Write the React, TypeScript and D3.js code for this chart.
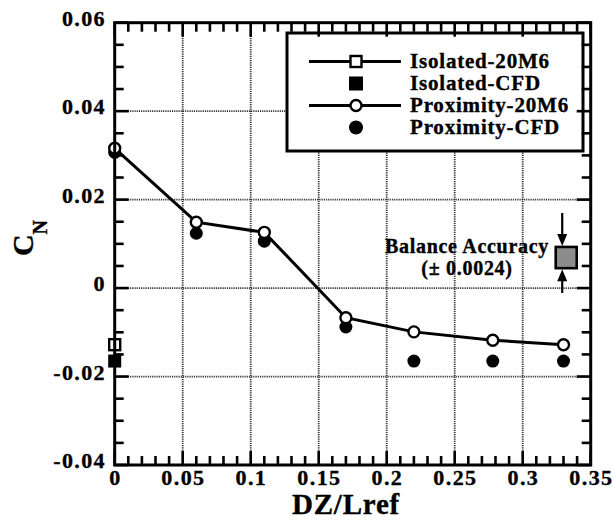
import React from "react";
import * as d3 from "d3";

const dz = [0, 0.06, 0.11, 0.17, 0.22, 0.278, 0.33];
const proximity20M6 = [0.0316, 0.0149, 0.0126, -0.0067, -0.0099, -0.0118, -0.0128];
const proximityCFD = [0.0307, 0.0124, 0.0106, -0.0088, -0.0165, -0.0165, -0.0165];
const isolatedX = [0];
const isolated20M6 = [-0.0128];
const isolatedCFD = [-0.0165];
const balanceX = 0.332;
const balanceCenter = 0.0069;
const balanceHalf = 0.0024;

const xTicks = [0, 0.05, 0.1, 0.15, 0.2, 0.25, 0.3, 0.35];
const xTickLabels = ["0", "0.05", "0.1", "0.15", "0.2", "0.25", "0.3", "0.35"];
const yTicks = [-0.04, -0.02, 0, 0.02, 0.04, 0.06];
const yTickLabels = ["-0.04", "-0.02", "0", "0.02", "0.04", "0.06"];
const legendLabels = ["Isolated-20M6", "Isolated-CFD", "Proximity-20M6", "Proximity-CFD"];

const FONT = "Liberation Serif, Times New Roman, Times, serif";

export default function App() {
  const L = 114.7, R = 590.7, T = 22.7, B = 465;
  const x = d3.scaleLinear().domain([0, 0.35]).range([L, R]);
  const y = d3.scaleLinear().domain([-0.04, 0.06]).range([B, T]);

  const xMinor = d3.range(0, 0.3501, 0.01).filter((v) => !xTicks.some((t) => Math.abs(t - v) < 1e-6));
  const yMinor = d3.range(-0.04, 0.0601, 0.005).filter((v) => !yTicks.some((t) => Math.abs(t - v) < 1e-6));

  const line = d3
    .line<number>()
    .x((_, i) => x(dz[i]))
    .y((d) => y(d));

  const major = 14, minor = 9;
  const tw = 2.6;
  const gridStyle = { stroke: "#333", strokeWidth: 1.8, strokeDasharray: "1.2,1" };

  const legRows = [61.5, 83.5, 105.5, 127.5];
  const legSymX = 356;

  const bx = x(balanceX);
  const bTop = y(balanceCenter + balanceHalf);
  const bBot = y(balanceCenter - balanceHalf);

  const txt = { fontFamily: FONT, fontWeight: 700 as const, stroke: "#000", strokeWidth: 0.35 };

  return (
    <svg
      width={613}
      height={520}
      style={{ position: "absolute", left: 0, top: 0, background: "#fff", fontFamily: FONT, fontWeight: 700 }}
    >
      <rect x={0} y={0} width={613} height={520} fill="#fff" />
      {/* grid */}
      {xTicks.slice(1, -1).map((t) => (
        <line key={"gx" + t} x1={x(t)} x2={x(t)} y1={T} y2={B} {...gridStyle} />
      ))}
      {yTicks.slice(1, -1).map((t) => (
        <line key={"gy" + t} x1={L} x2={R} y1={y(t)} y2={y(t)} {...gridStyle} />
      ))}

      {/* legend */}
      <rect x={287} y={33} width={296} height={118} fill="#fff" stroke="#000" strokeWidth={3} />
      <line x1={309} x2={401} y1={legRows[0]} y2={legRows[0]} stroke="#000" strokeWidth={3} />
      <rect x={legSymX - 5.5} y={legRows[0] - 5.5} width={11} height={11} fill="#fff" stroke="#000" strokeWidth={2.4} />
      <rect x={legSymX - 7} y={legRows[1] - 7} width={14} height={14} fill="#000" />
      <line x1={309} x2={401} y1={legRows[2]} y2={legRows[2]} stroke="#000" strokeWidth={3} />
      <circle cx={legSymX} cy={legRows[2]} r={5.5} fill="#fff" stroke="#000" strokeWidth={2.4} />
      <circle cx={legSymX} cy={legRows[3]} r={7} fill="#000" />
      {legendLabels.map((s, i) => (
        <text key={s} x={410} y={legRows[i] + 6.5} fontSize={21} letterSpacing={0.8} fill="#000" style={txt}>
          {s}
        </text>
      ))}

      {/* data line */}
      <path d={line(proximity20M6) || ""} fill="none" stroke="#000" strokeWidth={3} />
      {proximityCFD.map((v, i) => (
        <circle key={"pc" + i} cx={x(dz[i])} cy={y(v)} r={6.5} fill="#000" />
      ))}
      {proximity20M6.map((v, i) => (
        <circle key={"po" + i} cx={x(dz[i])} cy={y(v)} r={5.5} fill="#fff" stroke="#000" strokeWidth={2.4} />
      ))}
      {isolatedCFD.map((v, i) => (
        <rect key={"ic" + i} x={x(isolatedX[i]) - 6.5} y={y(v) - 6.5} width={13} height={13} fill="#000" />
      ))}
      {isolated20M6.map((v, i) => (
        <rect key={"io" + i} x={x(isolatedX[i]) - 5.5} y={y(v) - 5.5} width={11} height={11} fill="#fff" stroke="#000" strokeWidth={2.4} />
      ))}

      {/* balance accuracy */}
      <rect x={bx - 10.5} y={bTop} width={21} height={bBot - bTop} fill="#8c8c8c" stroke="#000" strokeWidth={2.6} />
      <line x1={bx - 4} x2={bx - 4} y1={213} y2={bTop - 10} stroke="#000" strokeWidth={2.2} />
      <path d={`M${bx - 9},${bTop - 13} L${bx + 1},${bTop - 13} L${bx - 4},${bTop - 1} Z`} fill="#000" />
      <line x1={bx - 4} x2={bx - 4} y1={bBot + 10} y2={293} stroke="#000" strokeWidth={2.2} />
      <path d={`M${bx - 9},${bBot + 13} L${bx + 1},${bBot + 13} L${bx - 4},${bBot + 1} Z`} fill="#000" />
      <text x={467} y={253} fontSize={20} letterSpacing={0.7} textAnchor="middle" fill="#000" style={txt}>
        Balance Accuracy
      </text>
      <text x={467} y={275} fontSize={20} letterSpacing={0.7} textAnchor="middle" fill="#000" style={txt}>
        (± 0.0024)
      </text>

      {/* frame */}
      <rect x={L} y={T} width={R - L} height={B - T} fill="none" stroke="#000" strokeWidth={3} />
      {xTicks.map((t) => (
        <g key={"xt" + t}>
          <line x1={x(t)} x2={x(t)} y1={B} y2={B - major} stroke="#000" strokeWidth={tw} />
          <line x1={x(t)} x2={x(t)} y1={T} y2={T + major} stroke="#000" strokeWidth={tw} />
        </g>
      ))}
      {xMinor.map((t) => (
        <g key={"xm" + t}>
          <line x1={x(t)} x2={x(t)} y1={B} y2={B - minor} stroke="#000" strokeWidth={tw} />
          <line x1={x(t)} x2={x(t)} y1={T} y2={T + minor} stroke="#000" strokeWidth={tw} />
        </g>
      ))}
      {yTicks.map((t) => (
        <g key={"yt" + t}>
          <line x1={L} x2={L + major} y1={y(t)} y2={y(t)} stroke="#000" strokeWidth={tw} />
          <line x1={R} x2={R - major} y1={y(t)} y2={y(t)} stroke="#000" strokeWidth={tw} />
        </g>
      ))}
      {yMinor.map((t) => (
        <g key={"ym" + t}>
          <line x1={L} x2={L + minor} y1={y(t)} y2={y(t)} stroke="#000" strokeWidth={tw} />
          <line x1={R} x2={R - minor} y1={y(t)} y2={y(t)} stroke="#000" strokeWidth={tw} />
        </g>
      ))}

      {/* tick labels */}
      {xTicks.map((t, i) => (
        <text key={"xl" + t} x={x(t) + 0.7} y={485} fontSize={22} letterSpacing={1.4} textAnchor="middle" fill="#000" style={txt}>
          {xTickLabels[i]}
        </text>
      ))}
      {yTicks.map((t, i) => (
        <text key={"yl" + t} x={106} y={y(t) + 3} fontSize={22} letterSpacing={1.4} textAnchor="end" fill="#000" style={txt}>
          {yTickLabels[i]}
        </text>
      ))}

      {/* axis titles */}
      <text x={346} y={514} fontSize={29} letterSpacing={0.8} textAnchor="middle" fill="#000" style={txt}>
        DZ/Lref
      </text>
      <text transform="translate(33,238) rotate(-90)" textAnchor="middle" fill="#000" style={txt}>
        <tspan fontSize={30}>C</tspan>
        <tspan fontSize={20} dy={14}>N</tspan>
      </text>
    </svg>
  );
}
